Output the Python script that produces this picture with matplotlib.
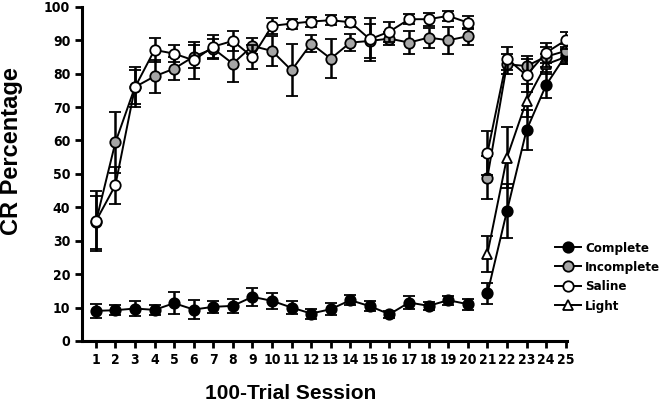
import matplotlib.pyplot as plt
import numpy as np

# session numbers: acquisition (1-20) and test (21-25)
sess_a = np.arange(1, 21)
sess_b = np.arange(21, 26)

complete_a = [9.0, 9.2, 9.7, 9.3, 11.3, 9.4, 10.2, 10.5, 13.2, 12.0,
              10.0, 8.2, 9.5, 12.2, 10.4, 8.0, 11.5, 10.5, 12.2, 11.0]
complete_a_err = [2.2, 1.5, 2.3, 1.5, 3.2, 2.8, 1.8, 2.2, 2.6, 2.4,
                  2.0, 1.5, 1.8, 1.5, 1.5, 1.0, 2.0, 1.3, 1.3, 1.6]
complete_b = [14.2, 38.9, 63.1, 76.6, 85.5]
complete_b_err = [3.0, 8.0, 6.0, 4.0, 2.5]

incomplete_a = [35.5, 59.4, 76.0, 79.2, 81.5, 85.1, 87.5, 83.0, 88.3, 86.8,
                81.0, 89.0, 84.5, 89.3, 89.8, 90.5, 89.3, 90.8, 90.0, 91.2]
incomplete_a_err = [8, 9, 5, 5, 3.5, 3.5, 3, 5.5, 2.5, 4.5,
                    7.8, 2.5, 5.8, 2.5, 5, 2, 3.5, 3, 4, 2.5]
incomplete_b = [48.9, 82.8, 82.3, 85.1, 86.8]
incomplete_b_err = [6.5, 3.0, 3.0, 3.0, 2.0]

saline_a = [35.8, 46.6, 75.9, 87.1, 86.0, 84.0, 88.1, 89.8, 85.0, 94.3,
            95.0, 95.6, 96.0, 95.4, 90.3, 92.6, 96.3, 96.3, 97.3, 95.3]
saline_a_err = [9, 5.5, 6, 3.5, 2.5, 5.5, 3.5, 3, 3.5, 2.5,
                1.5, 1.5, 1.5, 1.5, 6.5, 3, 1.5, 2, 1.5, 2]
saline_b = [56.2, 84.5, 79.5, 86.3, 90.0]
saline_b_err = [6.5, 3.5, 5.0, 3.0, 2.5]

light_b = [26.0, 54.9, 71.9, 82.8, 85.0]
light_b_err = [5.5, 9.0, 5.0, 3.0, 2.0]

plt.rcParams['font.family'] = ['DejaVu Sans']
plt.rcParams['font.stretch'] = 'condensed'

fig = plt.figure(figsize=(6.62, 4.03), dpi=100)
ax = fig.add_axes([0.124, 0.154, 0.732, 0.829])

style = dict(color='black', ecolor='black', elinewidth=1.8, capsize=4.5,
             capthick=1.8, linewidth=1.4, markersize=7.5,
             markeredgecolor='black', markeredgewidth=1.3)

series = [
    ('Light', '^', 'white', None, None, light_b, light_b_err),
    ('Complete', 'o', 'black', complete_a, complete_a_err, complete_b, complete_b_err),
    ('Incomplete', 'o', '#a6a6a6', incomplete_a, incomplete_a_err, incomplete_b, incomplete_b_err),
    ('Saline', 'o', 'white', saline_a, saline_a_err, saline_b, saline_b_err),
]
handles = {}
for i, (name, mk, fc, ya, ea, yb, eb) in enumerate(series):
    if ya is not None:
        ax.errorbar(sess_a, ya, yerr=ea, marker=mk, markerfacecolor=fc,
                    zorder=3 + i, **style)
    h = ax.errorbar(sess_b, yb, yerr=eb, marker=mk, markerfacecolor=fc,
                    zorder=3 + i, **style)
    handles[name] = h

ax.set_xlim(0.3, 25.05)
ax.set_ylim(0, 100)
ax.set_xticks(np.arange(1, 26))
ax.set_yticks(np.arange(0, 101, 10))
ax.tick_params(direction='out', length=5, width=2, labelsize=10)
for lab in ax.get_xticklabels() + ax.get_yticklabels():
    lab.set_fontweight('bold')
for s in ['top', 'right']:
    ax.spines[s].set_visible(False)
for s in ['left', 'bottom']:
    ax.spines[s].set_linewidth(2.2)

ax.set_xlabel('100-Trial Session', fontsize=15, fontweight='bold',
              family='Liberation Sans', stretch='normal')
ax.set_ylabel('CR Percentage', fontsize=17, fontweight='bold',
              family='Liberation Sans', stretch='normal')
ax.xaxis.set_label_coords(0.43, -0.128)
ax.yaxis.set_label_coords(-0.122, 0.567)

order = ['Complete', 'Incomplete', 'Saline', 'Light']
leg = fig.legend([handles[n][0] for n in order], order, loc='upper left',
                 bbox_to_anchor=(0.82, 0.43), frameon=False,
                 prop={'family': 'DejaVu Sans', 'stretch': 'condensed',
                       'weight': 'bold', 'size': 9.5},
                 handlelength=2.0, handletextpad=0.3, labelspacing=0.48)

fig.savefig('out.png', dpi=100)
